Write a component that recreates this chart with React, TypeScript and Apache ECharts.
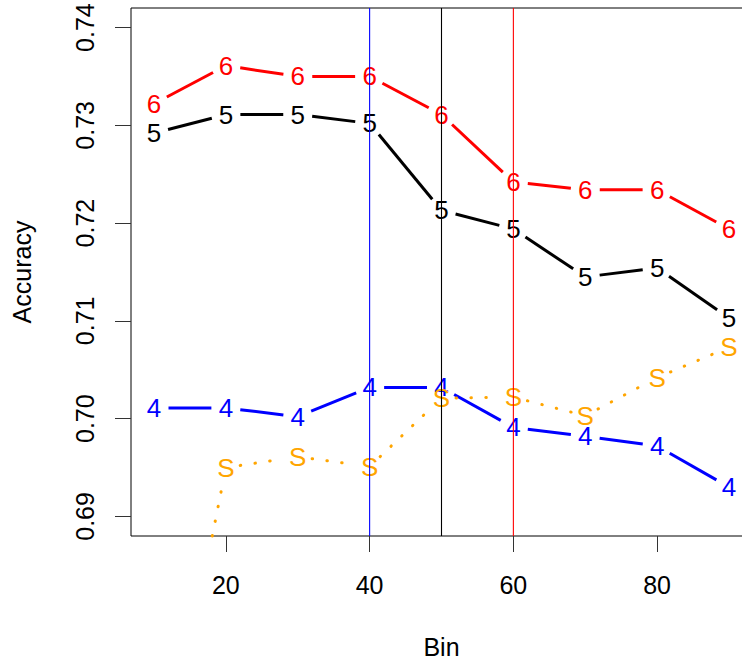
import React, { useEffect, useRef } from "react";
import * as echarts from "echarts";

const bins = [10, 20, 30, 40, 50, 60, 70, 80, 90];
const acc6 = [0.7322, 0.7361, 0.735, 0.735, 0.7311, 0.7242, 0.7234, 0.7234, 0.7194];
const acc5 = [0.7292, 0.7311, 0.7311, 0.7302, 0.7213, 0.7194, 0.7145, 0.7154, 0.7103];
const acc4 = [0.7011, 0.7011, 0.7002, 0.7032, 0.7032, 0.6991, 0.6982, 0.6972, 0.693];
const accS = [0.658, 0.695, 0.6961, 0.6951, 0.7021, 0.7022, 0.7003, 0.7042, 0.7073];
const xTicks = [20, 40, 60, 80];
const yTicks = [0.69, 0.7, 0.71, 0.72, 0.73, 0.74];
const vlineBins = [40, 50, 60];
const vlineColors = ["#0000FF", "#000000", "#FF0000"];

const Y_MIN = 0.688;
const Y_MAX = 0.742;
const FONT = '"Liberation Sans", Arial, Helvetica, sans-serif';
const GAP = 14.5;

function seriesFor(name: string, vals: number[], color: string, ch: string, dotted: boolean, z: number) {
  return {
    type: "custom",
    name,
    z,
    itemStyle: { color },
    data: bins.map((b, i) => [b, vals[i]]),
    renderItem: (params: any, api: any) => {
      const i = params.dataIndex;
      const cs = params.coordSys;
      const top = cs.y;
      const bottom = cs.y + cs.height;
      const p = api.coord([api.value(0), api.value(1)]);
      const children: any[] = [];
      if (i < bins.length - 1) {
        const q = api.coord([bins[i + 1], vals[i + 1]]);
        const dx = q[0] - p[0];
        const dy = q[1] - p[1];
        const len = Math.hypot(dx, dy);
        if (len > 2 * GAP) {
          const ux = dx / len;
          const uy = dy / len;
          let x1 = p[0] + ux * GAP;
          let y1 = p[1] + uy * GAP;
          let x2 = q[0] - ux * GAP;
          let y2 = q[1] - uy * GAP;
          const clipY = (xa: number, ya: number, xb: number, yb: number, yl: number) =>
            xa + ((xb - xa) * (yl - ya)) / (yb - ya);
          let ok = true;
          if (y1 > bottom && y2 > bottom) ok = false;
          if (y1 < top && y2 < top) ok = false;
          if (ok) {
            if (y1 > bottom) { x1 = clipY(x1, y1, x2, y2, bottom); y1 = bottom; }
            if (y2 > bottom) { x2 = clipY(x1, y1, x2, y2, bottom); y2 = bottom; }
            if (y1 < top) { x1 = clipY(x1, y1, x2, y2, top); y1 = top; }
            if (y2 < top) { x2 = clipY(x1, y1, x2, y2, top); y2 = top; }
            children.push({
              type: "line",
              shape: { x1, y1, x2, y2 },
              style: dotted
                ? { stroke: color, lineWidth: 3, lineDash: [0.5, 14.4], lineCap: "round" }
                : { stroke: color, lineWidth: 3, lineCap: "butt" },
            });
          }
        }
      }
      if (p[1] >= top && p[1] <= bottom) {
        children.push({
          type: "text",
          x: p[0],
          y: p[1],
          style: {
            text: ch,
            fill: color,
            font: `26px ${FONT}`,
            align: "center",
            verticalAlign: "middle",
          },
        });
      }
      return { type: "group", children };
    },
  };
}

export default function App() {
  const ref = useRef<HTMLDivElement>(null);
  useEffect(() => {
    if (!ref.current) return;
    const chart = echarts.init(ref.current, null, { renderer: "svg" });
    const vlineSeries = vlineBins.map((b, i) => ({
      type: "line",
      name: "v" + b,
      z: 10,
      silent: true,
      symbol: "none",
      color: vlineColors[i],
      itemStyle: { color: vlineColors[i] },
      lineStyle: { color: vlineColors[i], width: 1.1, type: "solid" },
      data: [
        [b, Y_MIN],
        [b, Y_MAX],
      ],
    }));
    chart.setOption({
      animation: false,
      backgroundColor: "#ffffff",
      textStyle: { fontFamily: FONT },
      grid: {
        left: 131,
        top: 8,
        width: 621,
        height: 528,
        outerBoundsMode: "none",
        containLabel: false,
        show: true,
        borderColor: "#000000",
        borderWidth: 1,
        backgroundColor: "transparent",
      },
      xAxis: {
        type: "value",
        min: 6.8,
        max: 93.2,
        name: "Bin",
        nameLocation: "middle",
        nameGap: 98,
        nameTextStyle: { fontSize: 25, color: "#000", fontFamily: FONT },
        axisLine: { show: false },
        splitLine: { show: false },
        axisTick: {
          show: true,
          length: 16,
          inside: false,
          customValues: xTicks,
          lineStyle: { color: "#333", width: 1 },
        },
        axisLabel: {
          customValues: xTicks,
          fontSize: 25,
          color: "#000",
          margin: 36,
          fontFamily: FONT,
          formatter: (v: number) => String(v),
        },
      },
      yAxis: {
        type: "value",
        min: Y_MIN,
        max: Y_MAX,
        name: "Accuracy",
        nameLocation: "middle",
        nameGap: 97,
        nameRotate: 90,
        nameTextStyle: { fontSize: 25, color: "#000", fontFamily: FONT },
        axisLine: { show: false },
        splitLine: { show: false },
        axisTick: {
          show: true,
          length: 16,
          inside: false,
          customValues: yTicks,
          lineStyle: { color: "#333", width: 1 },
        },
        axisLabel: {
          customValues: yTicks,
          rotate: 90,
          fontSize: 25,
          color: "#000",
          margin: 34,
          fontFamily: FONT,
          formatter: (v: number) => v.toFixed(2),
        },
      },
      series: [
        seriesFor("5", acc5, "#000000", "5", false, 2),
        seriesFor("6", acc6, "#FF0000", "6", false, 3),
        seriesFor("4", acc4, "#0000FF", "4", false, 4),
        seriesFor("S", accS, "#FFA500", "S", true, 5),
        ...vlineSeries,
      ],
    });
    return () => chart.dispose();
  }, []);
  return (
    <div
      ref={ref}
      style={{ position: "fixed", left: 0, top: 0, width: 742, height: 664, background: "#fff" }}
    />
  );
}
